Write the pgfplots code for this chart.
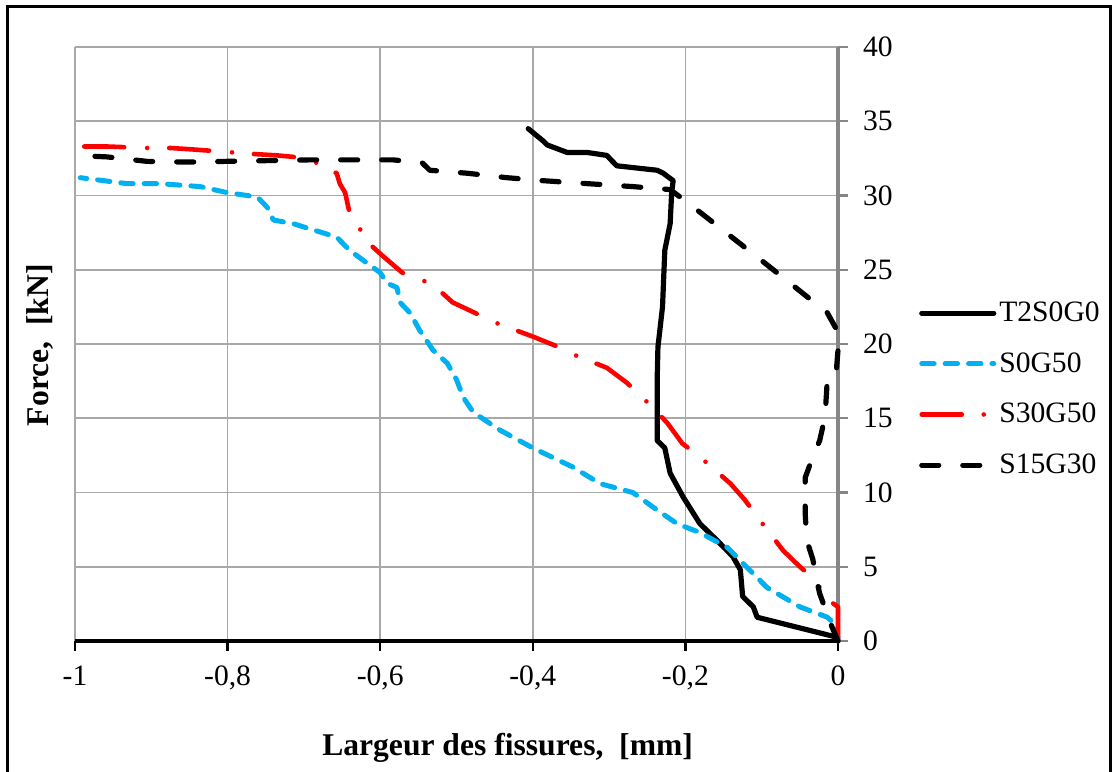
\documentclass[border=0pt]{standalone}
\usepackage{fontspec}
\setmainfont{Liberation Serif}
\usepackage{pgfplots}
\pgfplotsset{compat=1.18}
\definecolor{skyb}{RGB}{0,176,240}
\definecolor{gridg}{RGB}{168,168,168}
\definecolor{axg}{RGB}{134,134,134}
\begin{document}
\begin{tikzpicture}
\useasboundingbox (0,0) rectangle (556.5bp,386bp);
\draw[black, line width=1.5bp] (3.5bp,0) -- (3.5bp,382.5bp) -- (555bp,382.5bp) -- (555bp,0);
\begin{axis}[
  at={(37.5bp,65.5bp)}, anchor=south west,
  scale only axis, width=381.5bp, height=297bp,
  xmin=-1, xmax=0, ymin=0, ymax=40,
  axis x line*=bottom, axis y line*=right,
  clip=false,
  xtick={-1,-0.8,-0.6,-0.4,-0.2,0},
  xticklabels={-1,{-0,8},{-0,6},{-0,4},{-0,2},0},
  ytick={0,5,...,40},
  /pgf/number format/assume math mode=true,
  tick align=outside,
  major tick length=5bp,
  grid=major,
  major grid style={gridg, line width=0.8bp},
  x axis line style={black, line width=2bp},
  y axis line style={axg, line width=2.2bp},
  xtick style={black, line width=1.2bp},
  ytick style={axg, line width=1.2bp},
  tick label style={font=\fontsize{14.8bp}{17bp}\selectfont},
  xticklabel shift=4bp,
  yticklabel style={anchor=west},
  yticklabel shift=4bp,
  xlabel={\textbf{Largeur des fissures,\ \ [mm]}},
  ylabel={\textbf{Force,\ \ [kN]}},
  label style={font=\fontsize{15.8bp}{18bp}\selectfont},
  x label style={at={(axis description cs:0.567,-0.18)}, anchor=center},
  y label style={at={(axis description cs:-0.046,0.498)}, anchor=center, rotate=0},
  legend style={at={(axis description cs:1.098,0.424)}, anchor=west, draw=none, fill=none,
    font=\fontsize{14.8bp}{17bp}\selectfont, row sep=11bp,
    nodes={inner sep=1.5bp}},
  legend cell align=left,
  legend image code/.code={\draw[#1] (0bp,0bp) -- (36bp,0bp);},
  every axis plot/.append style={line cap=round, line join=round},
]
\addplot[black, line width=2.6bp] coordinates {
(0,0) (-0.005,0.3) (-0.106,1.6) (-0.111,2.3) (-0.125,3.0) (-0.128,4.8) (-0.138,5.7)
(-0.159,6.8) (-0.181,7.9) (-0.203,9.7) (-0.22,11.3) (-0.227,13.0) (-0.237,13.5)
(-0.237,17.6) (-0.236,19.8) (-0.23,22.5) (-0.227,26.3) (-0.22,28.1) (-0.218,30.2)
(-0.216,31.0) (-0.229,31.5) (-0.237,31.7) (-0.29,32.0) (-0.303,32.7) (-0.329,32.9)
(-0.355,32.9) (-0.381,33.4) (-0.387,33.7) (-0.406,34.5)};
\addlegendentry{T2S0G0}
\addplot[skyb, line width=2.5bp, dash pattern=on 6.2bp off 5.5bp] coordinates {
(0,0) (-0.001,1.0) (-0.014,1.6) (-0.05,2.3) (-0.093,3.6) (-0.124,5.2) (-0.145,6.3)
(-0.181,7.3) (-0.211,7.9) (-0.242,9.0) (-0.269,10.0) (-0.312,10.6) (-0.347,11.7)
(-0.4,13.0) (-0.443,14.2) (-0.478,15.4) (-0.491,16.4) (-0.5,17.6) (-0.512,18.7)
(-0.531,19.6) (-0.548,20.9) (-0.561,22.1) (-0.574,22.8) (-0.578,23.8) (-0.591,24.1)
(-0.6,24.8) (-0.64,26.3) (-0.657,27.2) (-0.714,28.1) (-0.74,28.35) (-0.748,29.2)
(-0.761,29.9) (-0.801,30.2) (-0.836,30.6) (-0.889,30.8) (-0.932,30.8) (-0.993,31.2)};
\addlegendentry{S0G50}
\addplot[red, line width=2.3bp, dash pattern=on 20bp off 11bp on 0bp off 11.5bp] coordinates {
(0,0) (0,2.3) (-0.014,2.8) (-0.03,4.1) (-0.052,5.1) (-0.072,6.1) (-0.105,8.3)
(-0.122,9.5) (-0.141,10.6) (-0.181,12.4) (-0.204,13.3) (-0.224,14.7) (-0.256,16.4)
(-0.277,17.4) (-0.303,18.4) (-0.347,19.3) (-0.371,19.9) (-0.4,20.5) (-0.447,21.4)
(-0.476,22.1) (-0.505,22.8) (-0.518,23.4) (-0.544,24.3) (-0.571,24.8) (-0.596,25.9)
(-0.609,26.5) (-0.623,27.2) (-0.626,27.7) (-0.64,28.8) (-0.646,30.2) (-0.653,30.8)
(-0.657,31.5) (-0.666,31.7) (-0.683,32.2) (-0.714,32.6) (-0.735,32.7) (-0.767,32.8)
(-0.793,32.9) (-0.845,33.1) (-0.875,33.2) (-0.906,33.2) (-0.958,33.3) (-0.99,33.3)};
\addlegendentry{S30G50}
\addplot[black, line width=2.6bp, dash pattern=on 8.5bp off 12bp] coordinates {
(0,0) (-0.01,1.2) (-0.024,3.2) (-0.028,4.1) (-0.033,5.5) (-0.041,6.8) (-0.043,8.6)
(-0.043,11.0) (-0.033,12.4) (-0.024,13.5) (-0.017,15.1) (-0.014,17.6) (-0.01,18.2)
(-0.002,18.3) (0,19.6) (0,20.8) (-0.014,22.1) (-0.102,25.7) (-0.194,29.4)
(-0.22,30.4) (-0.269,30.6) (-0.329,30.8) (-0.387,31.0) (-0.434,31.2) (-0.486,31.5)
(-0.535,31.7) (-0.545,32.2) (-0.583,32.4) (-0.692,32.4) (-0.801,32.3) (-0.853,32.25)
(-0.906,32.3) (-0.958,32.6) (-1.0,32.7)};
\addlegendentry{S15G30}
\end{axis}
\end{tikzpicture}
\end{document}
